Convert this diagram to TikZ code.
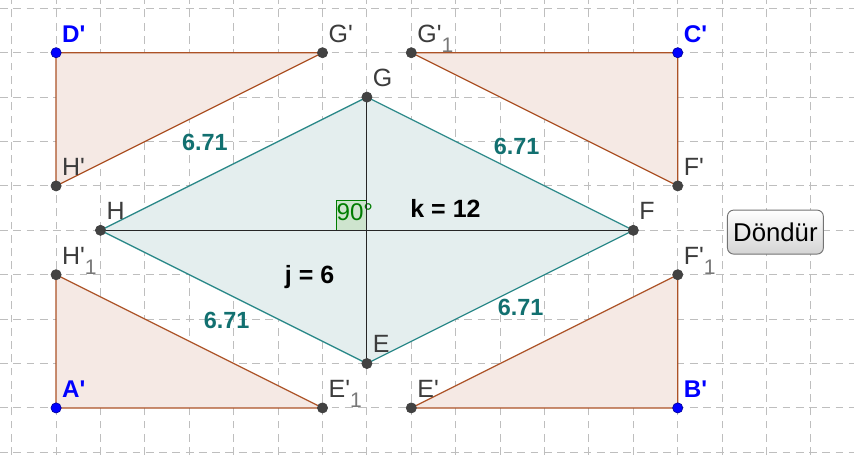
\documentclass[tikz,border=0pt]{standalone}
\usepackage{fontspec}
\setmainfont{Liberation Sans}
\usetikzlibrary{calc}
\definecolor{gridcol}{RGB}{190,190,190}
\definecolor{triline}{RGB}{172,82,38}
\definecolor{trifill}{RGB}{245,233,228}
\definecolor{rhline}{RGB}{45,138,138}
\definecolor{rhfill}{RGB}{228,238,238}
\definecolor{lencol}{RGB}{18,112,112}
\definecolor{ptcol}{RGB}{66,66,66}
\definecolor{lblcol}{RGB}{60,60,60}
\definecolor{subcol}{RGB}{120,120,120}
\definecolor{angcol}{RGB}{0,125,0}
\definecolor{angfill}{RGB}{206,228,206}
\definecolor{btnline}{RGB}{115,115,115}
\newcommand{\prm}{\textquotesingle}
\newcommand{\idx}[1]{\raisebox{-6.5pt}{\fontsize{13.5}{13.5}\selectfont\color{subcol}#1}}
\tikzset{
  grid line/.style ={gridcol, dash pattern=on 5pt off 3.5pt, line width=0.6pt},
  tri/.style       ={draw=triline, fill=trifill, line width=0.8pt, line join=round},
  rhomb/.style     ={draw=rhline, fill=rhfill, line width=0.8pt, line join=round},
  diag/.style      ={draw=black!85, line width=0.7pt},
  pt/.style        ={circle, fill=ptcol, draw=black!75, line width=0.4pt,
                     inner sep=0pt, minimum size=2.3mm},
  bpt/.style       ={pt, fill=blue, draw=blue!60!black},
  ptlbl/.style     ={anchor=base west, inner sep=0pt, xshift=1.3mm, yshift=2.4mm,
                     font=\fontsize{16}{16}\selectfont, text=lblcol},
  blbl/.style      ={ptlbl, text=blue, font=\fontsize{15.5}{15.5}\selectfont\bfseries},
  len/.style       ={text=lencol, font=\fontsize{15}{15}\selectfont\bfseries, inner sep=0pt},
  val/.style       ={font=\fontsize{16}{16}\selectfont\bfseries, inner sep=0pt, anchor=base},
  button/.style    ={draw=btnline, rounded corners=4pt, top color=white, bottom color=black!17,
                     minimum width=21.6mm, minimum height=9.9mm, line width=0.6pt,
                     font=\fontsize{16.5}{16.5}\selectfont},
}

\begin{document}
\begin{tikzpicture}
    \useasboundingbox (-8.2635,-5.06) rectangle (10.97,5.187);
    \fill[white] (-8.2635,-5.06) rectangle (10.97,5.187);

    % grid
    \foreach \x in {-8,...,10}
      \draw[grid line] (\x,-5.06) -- (\x,5.187);
    \foreach \y in {-5,...,5}
      \draw[grid line] (-8.2635,\y) -- (10.97,\y);

    % points
    \coordinate (H) at (-6,0);  \coordinate (F) at (6,0);
    \coordinate (G) at (0,3);   \coordinate (E) at (0,-3);
    \coordinate (O) at (0,0);
    \coordinate (Dp) at (-7,4); \coordinate (Gp) at (-1,4); \coordinate (Hp) at (-7,1);
    \coordinate (Cp) at (7,4);  \coordinate (Gq) at (1,4);  \coordinate (Fp) at (7,1);
    \coordinate (Ap) at (-7,-4); \coordinate (Eq) at (-1,-4); \coordinate (Hq) at (-7,-1);
    \coordinate (Bp) at (7,-4);  \coordinate (Ep) at (1,-4);  \coordinate (Fq) at (7,-1);

    % triangles
    \draw[tri] (Dp) -- (Gp) -- (Hp) -- cycle;
    \draw[tri] (Cp) -- (Gq) -- (Fp) -- cycle;
    \draw[tri] (Ap) -- (Eq) -- (Hq) -- cycle;
    \draw[tri] (Bp) -- (Ep) -- (Fq) -- cycle;

    % rhombus and diagonals
    \draw[rhomb] (H) -- (G) -- (F) -- (E) -- cycle;
    \filldraw[fill=angfill, draw=angcol, line width=0.6pt] (O) rectangle ++(-0.675,0.675);
    \node[anchor=base west, inner sep=0pt, text=angcol, font=\fontsize{15.5}{15.5}\selectfont]
        (ang) at (-0.69,0.22) {90°};
    \draw[diag] (H) -- (F);
    \draw[diag] (G) -- (E);

    % side lengths
    \node[len] (sHG) at (-3.65,1.99) {6.71};
    \node[len] (sGF) at (3.37,1.88) {6.71};
    \node[len] (sHE) at (-3.16,-2.04) {6.71};
    \node[len] (sEF) at (3.46,-1.73) {6.71};
    \node[val] (k) at (1.77,0.29) {k = 12};
    \node[val] (j) at (-1.29,-1.19) {j = 6};

    % vertices
    \foreach \p/\t in {G/G, H/H, F/F, E/E, Gp/{G\prm}, Hp/{H\prm}, Gq/{G\prm\idx{1}},
                       Fp/{F\prm}, Eq/{E\prm\idx{1}}, Hq/{H\prm\idx{1}}, Ep/{E\prm},
                       Fq/{F\prm\idx{1}}}{
      \node[pt] (n\p) at (\p) {};
      \node[ptlbl] (l\p) at (\p) {\t};
    }
    \foreach \p/\t in {Dp/D, Cp/C, Ap/A, Bp/B}{
      \node[bpt] (n\p) at (\p) {};
      \node[blbl] (l\p) at (\p) {\t\prm};
    }

    % button
    \node[button] (btn) at (9.2,-0.04) {Döndür};
\end{tikzpicture}
\end{document}
